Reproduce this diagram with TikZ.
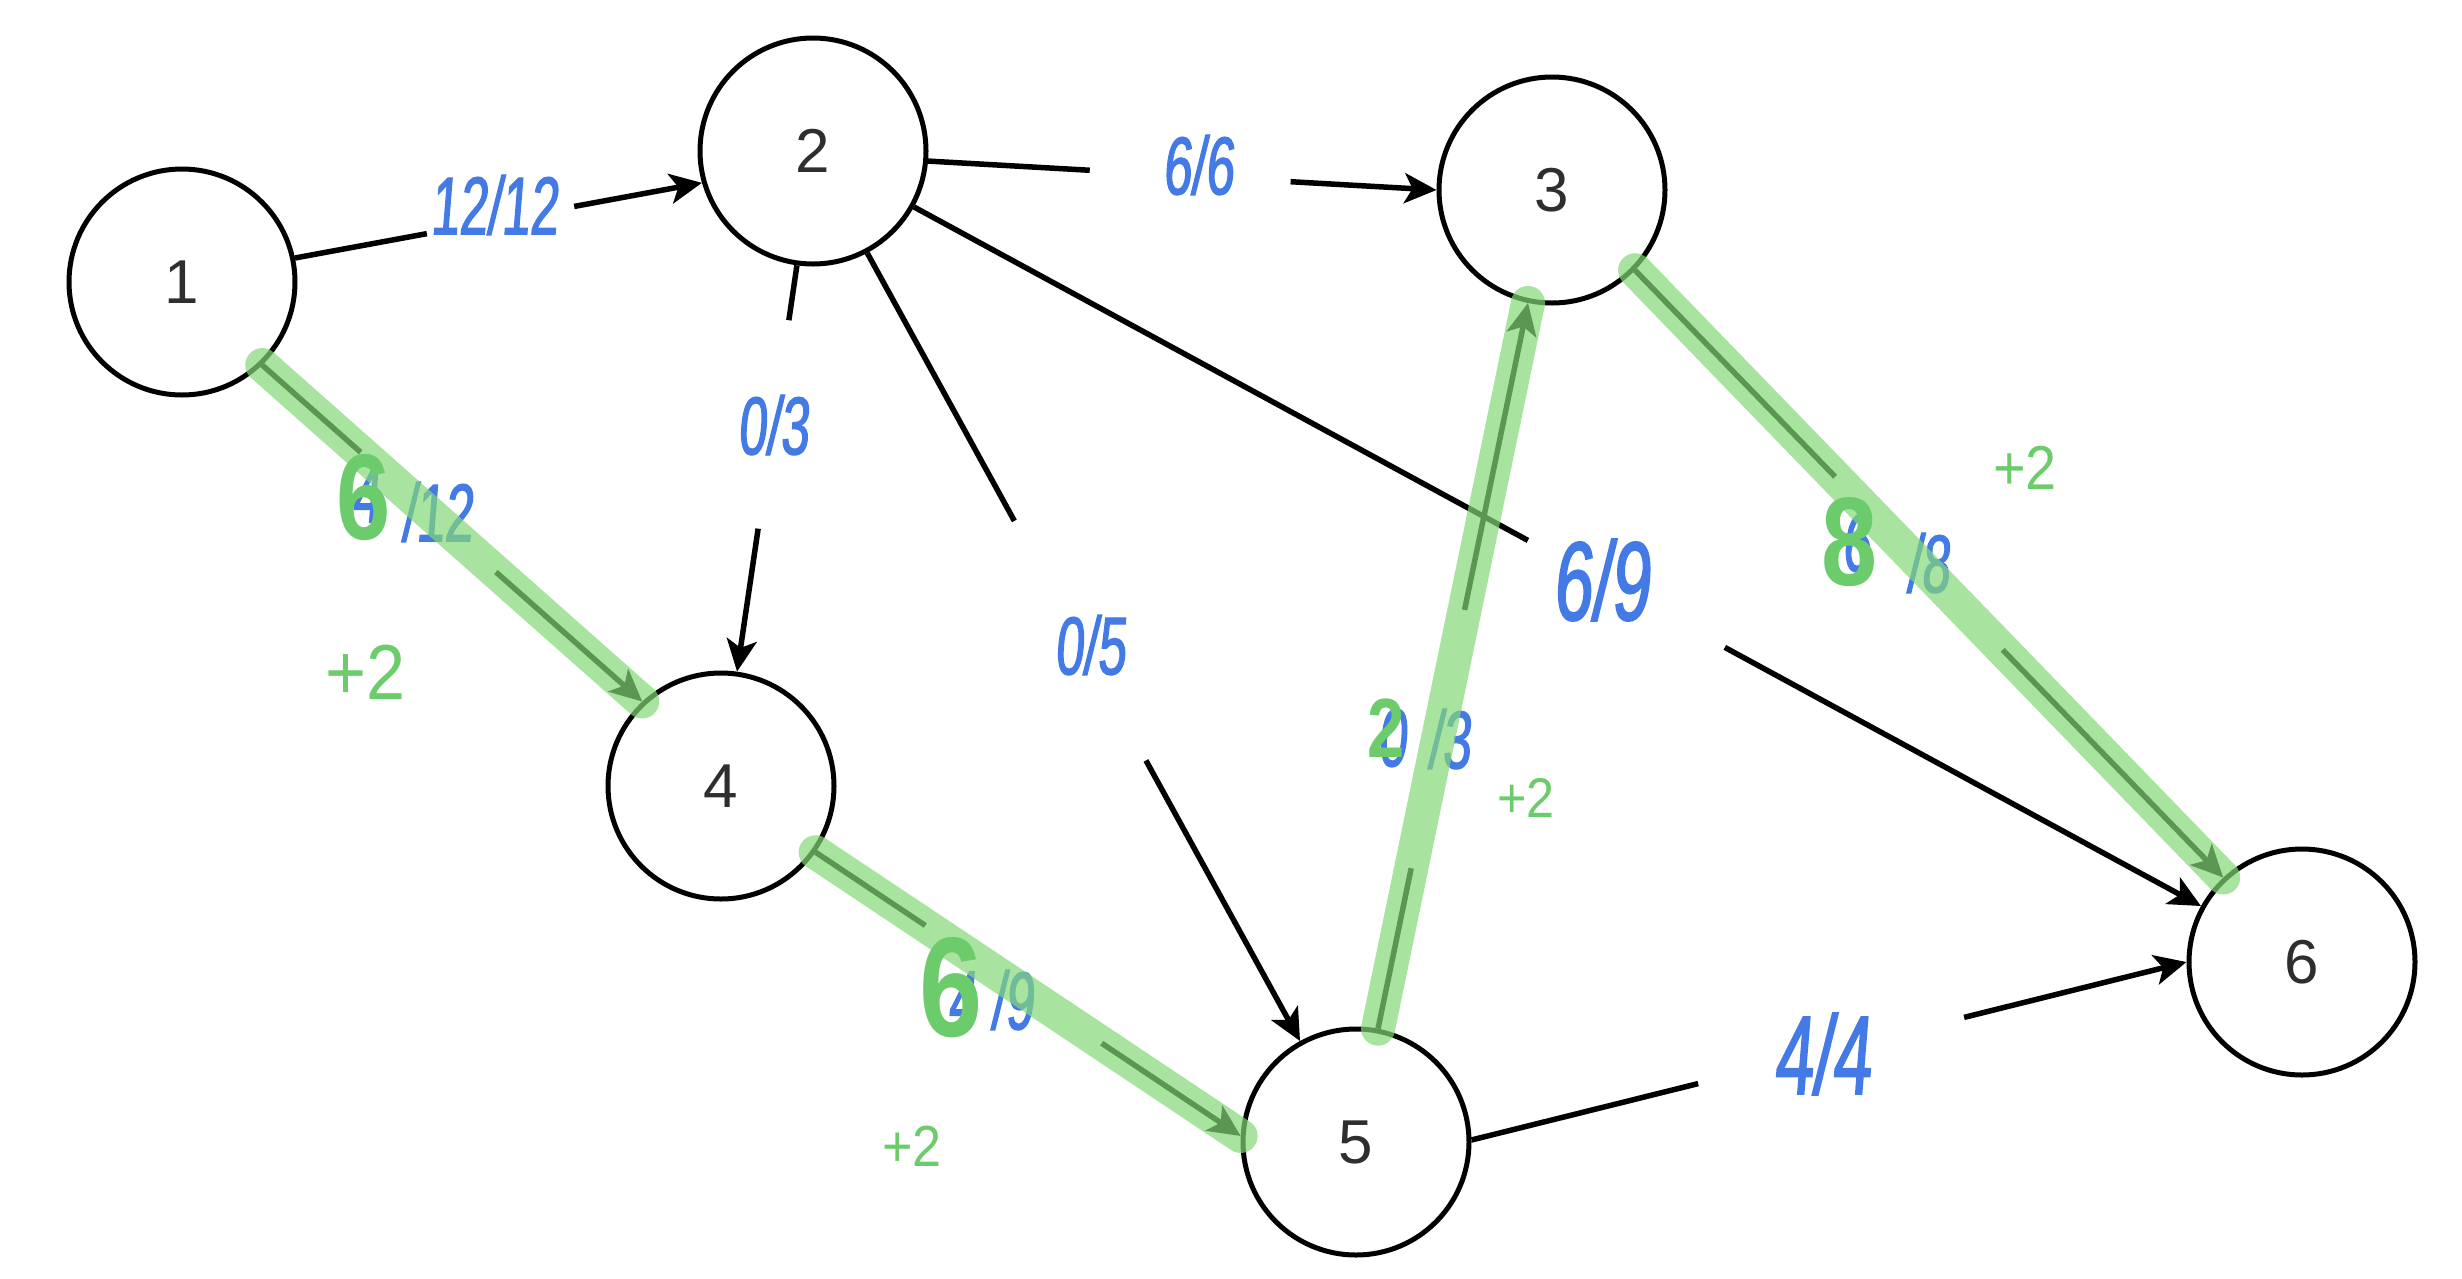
\documentclass[tikz,border=0pt]{standalone}
\usepackage{fontspec}
\setmainfont{Liberation Sans}
\newfontfamily\handfont[FakeStretch=0.62,FakeSlant=0.08,FakeBold=1.5]{Liberation Sans}
\newfontfamily\plusfont[FakeStretch=0.9]{Liberation Sans}
\newfontfamily\bighand[FakeStretch=0.8]{Liberation Sans}
\usetikzlibrary{arrows.meta,calc}
\definecolor{hblue}{RGB}{68,122,230}
\definecolor{hgreen}{RGB}{108,204,108}
\definecolor{hlite}{RGB}{131,216,119}
\tikzset{
  vertex/.style={circle,draw=black,line width=5pt,minimum size=226pt,inner sep=0pt,
    text=black!82,font=\fontsize{62}{62}\selectfont},
  edgeline/.style={line width=5.5pt,draw=black},
  arrline/.style={edgeline,-{Stealth[length=32pt,width=30pt,inset=8pt]}},
  lab/.style={text=hblue,inner sep=0pt,font=\handfont\fontsize{82}{82}\selectfont},
  biglab/.style={text=hblue,inner sep=0pt,font=\handfont\fontsize{112}{112}\selectfont},
  glab/.style={text=hgreen,inner sep=0pt,font=\bighand\bfseries\fontsize{#1}{#1}\selectfont},
  plus/.style={text=hgreen,inner sep=0pt,font=\plusfont\fontsize{#1}{#1}\selectfont},
  hilite/.style={line width=34pt,draw=hlite,opacity=0.7,line cap=round}
}
\begin{document}
\begin{tikzpicture}[x=1pt,y=-1pt]
\useasboundingbox (0,0) rectangle (2462,1278);
% vertices
\node[vertex] (n1) at (182,282) {1};
\node[vertex] (n2) at (813,151) {2};
\node[vertex] (n3) at (1552,190) {3};
\node[vertex] (n4) at (721,786) {4};
\node[vertex] (n5) at (1356,1142) {5};
\node[vertex] (n6) at (2302,962) {6};
% gap coordinates
\coordinate (a12) at ($(n1.12)!0.324!(n2.196)$);
\coordinate (b12) at ($(n1.12)!0.686!(n2.196)$);
\coordinate (a23) at ($(n2.-5)!0.318!(n3.180)$);
\coordinate (b23) at ($(n2.-5)!0.713!(n3.180)$);
\coordinate (a24) at ($(n2.-98)!0.135!(n4.82)$);
\coordinate (b24) at ($(n2.-98)!0.648!(n4.82)$);
\coordinate (a25) at ($(n2.-62)!0.340!(n5.119)$);
\coordinate (b25) at ($(n2.-62)!0.644!(n5.119)$);
\coordinate (a26) at ($(n2.-29)!0.477!(n6.151)$);
\coordinate (b26) at ($(n2.-29)!0.630!(n6.151)$);
\coordinate (a36) at ($(n3.-44)!0.340!(n6.133)$);
\coordinate (b36) at ($(n3.-44)!0.625!(n6.133)$);
\coordinate (a14) at ($(n1.-46)!0.259!(n4.133)$);
\coordinate (b14) at ($(n1.-46)!0.615!(n4.133)$);
\coordinate (a45) at ($(n4.-35)!0.258!(n5.177)$);
\coordinate (b45) at ($(n4.-35)!0.673!(n5.177)$);
\coordinate (a53) at ($(n5.79)!0.221!(n3.258)$);
\coordinate (b53) at ($(n5.79)!0.577!(n3.258)$);
\coordinate (a56) at ($(n5.1)!0.317!(n6.180)$);
\coordinate (b56) at ($(n5.1)!0.689!(n6.180)$);
% edges
\draw[edgeline] (n1.12) -- (a12);  \draw[arrline] (b12) -- (n2.196);
\draw[edgeline] (n2.-5) -- (a23);  \draw[arrline] (b23) -- (n3.180);
\draw[edgeline] (n2.-98) -- (a24); \draw[arrline] (b24) -- (n4.82);
\draw[edgeline] (n2.-62) -- (a25); \draw[arrline] (b25) -- (n5.119);
\draw[edgeline] (n2.-29) -- (a26); \draw[arrline] (b26) -- (n6.151);
\draw[edgeline] (n3.-44) -- (a36); \draw[arrline] (b36) -- (n6.133);
\draw[edgeline] (n1.-46) -- (a14); \draw[arrline] (b14) -- (n4.133);
\draw[edgeline] (n4.-35) -- (a45); \draw[arrline] (b45) -- (n5.177);
\draw[edgeline] (n5.79) -- (a53);  \draw[arrline] (b53) -- (n3.258);
\draw[edgeline] (n5.1) -- (a56);   \draw[arrline] (b56) -- (n6.180);
% blue labels
\node[lab] (l12) at (494,205) {12/12};
\node[lab] (l23) at (1198,165) {6/6};
\node[lab] (l24) at (773,425) {0/3};
\node[lab] (l25) at (1090,645) {0/5};
\node[biglab] (l26) at (1601,580) {6/9};
\node[biglab] (l56) at (1822,1054) {4/4};
\node[lab] (l14o) at (366,494) {4};
\node[lab] (l14) at (437,512) {/12};
\node[lab] (l36o) at (1856,543) {6};
\node[lab] (l36) at (1928,563) {/8};
\node[lab] (l45o) at (962,1000) {4};
\node[lab] (l45) at (1012,1000) {/9};
\node[lab] (l53o) at (1392,738) {0};
\node[lab] (l53) at (1449,739) {/3};
% highlights
\draw[hilite] (n1.-46) -- (n4.133);
\draw[hilite] (n4.-35) -- (n5.177);
\draw[hilite] (n5.79) -- (n3.258);
\draw[hilite] (n3.-44) -- (n6.133);
% green corrections
\node[glab=122] (g14) at (364,497) {6};
\node[glab=126] (g36) at (1850,542) {8};
\node[glab=142] (g45) at (951,988) {6};
\node[glab=84] (g53) at (1386,728) {2};
\node[plus=78] (p1) at (366,672) {+2};
\node[plus=58] (p2) at (912,1146) {+2};
\node[plus=56] (p3) at (1526,798) {+2};
\node[plus=62] (p4) at (2025,468) {+2};
\end{tikzpicture}
\end{document}
